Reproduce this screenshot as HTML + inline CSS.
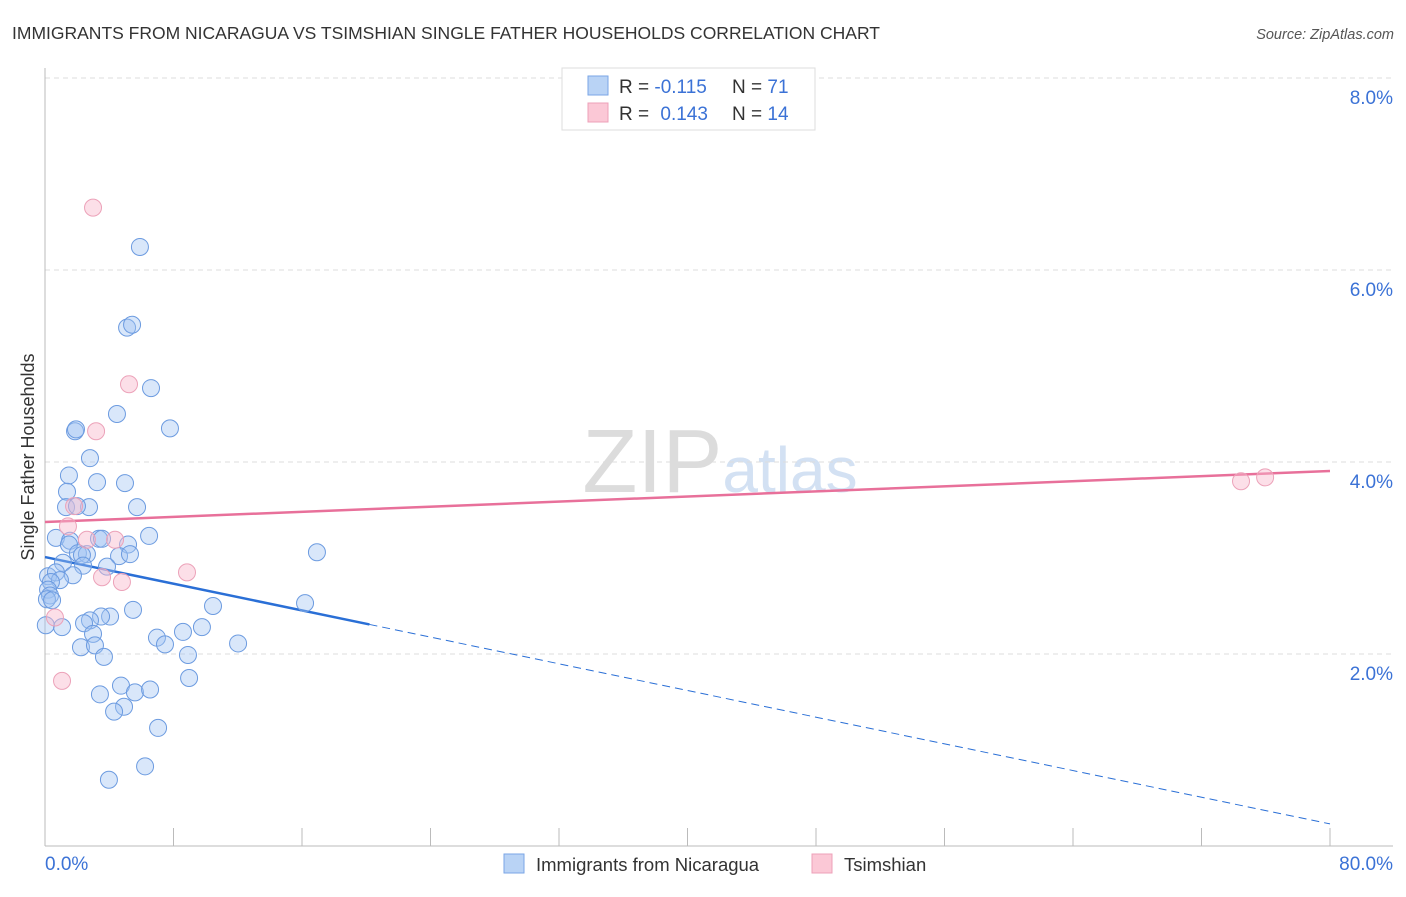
<!DOCTYPE html>
<html><head><meta charset="utf-8"><style>
body{margin:0;background:#fff;font-family:"Liberation Sans",sans-serif;}
svg text{font-family:"Liberation Sans",sans-serif;}
</style></head><body>
<svg id="chart" width="1406" height="892" viewBox="0 0 1406 892" xmlns="http://www.w3.org/2000/svg">
<text x="12" y="39" font-size="17.5" fill="#333">IMMIGRANTS FROM NICARAGUA VS TSIMSHIAN SINGLE FATHER HOUSEHOLDS CORRELATION CHART</text>
<text x="1394" y="39" font-size="14.5" fill="#555" text-anchor="end" font-style="italic">Source: ZipAtlas.com</text>
<text x="720" y="492" font-size="90" fill="#ddd" text-anchor="middle" font-family="Liberation Serif"><tspan fill="#dcdcdc">ZIP</tspan><tspan fill="#d3e1f3" font-family="Liberation Sans" font-size="64">atlas</tspan></text>
<g id="grid"></g>
<g id="axes"></g>
<g id="lines"></g>
<g id="points"></g>
<text transform="translate(34,457) rotate(-90)" font-size="18" fill="#333" text-anchor="middle">Single Father Households</text>
<g>
<rect x="562" y="68" width="253" height="62" fill="#fff" stroke="#ddd"/>
<rect x="588" y="76" width="20" height="19" fill="#b9d3f5" stroke="#7aa6e6"/>
<rect x="588" y="103" width="20" height="19" fill="#fbc8d6" stroke="#eea0b8"/>
<text x="619" y="93" font-size="19" fill="#333">R = <tspan fill="#3b72d6">-0.115</tspan></text>
<text x="732" y="93" font-size="19" fill="#333">N = <tspan fill="#3b72d6">71</tspan></text>
<text x="619" y="120" font-size="19" fill="#333">R = <tspan fill="#3b72d6" dx="6">0.143</tspan></text>
<text x="732" y="120" font-size="19" fill="#333">N = <tspan fill="#3b72d6">14</tspan></text>
</g>
<g>
<rect x="504" y="854" width="20" height="19" fill="#b9d3f5" stroke="#7aa6e6"/>
<text x="536" y="871" font-size="18.5" fill="#333">Immigrants from Nicaragua</text>
<rect x="812" y="854" width="20" height="19" fill="#fbc8d6" stroke="#eea0b8"/>
<text x="844" y="871" font-size="18.5" fill="#333">Tsimshian</text>
</g>
</svg>
<script>
const blueX=[5.91,5.11,5.42,6.60,4.48,1.87,1.93,7.78,2.80,1.49,3.24,4.98,1.37,5.73,1.31,2.74,1.99,0.68,1.56,3.36,3.55,6.48,5.17,1.49,2.05,2.61,2.30,4.61,5.29,16.93,1.12,3.86,2.37,0.19,0.68,1.74,0.93,0.37,0.19,0.31,0.12,0.44,5.48,10.46,16.19,4.05,3.49,2.80,2.43,1.06,2.99,6.97,7.47,8.59,9.77,12.02,2.24,3.11,3.67,8.90,8.97,4.73,3.42,5.60,6.54,4.92,4.30,7.04,6.23,3.98,0.05];
const blueY=[6.24,5.40,5.43,4.77,4.50,4.32,4.34,4.35,4.04,3.86,3.79,3.78,3.69,3.53,3.53,3.53,3.54,3.21,3.18,3.20,3.20,3.23,3.14,3.14,3.05,3.04,3.03,3.02,3.04,3.06,2.95,2.91,2.92,2.81,2.85,2.82,2.77,2.75,2.67,2.61,2.57,2.56,2.46,2.50,2.53,2.39,2.39,2.35,2.32,2.28,2.21,2.17,2.10,2.23,2.28,2.11,2.07,2.09,1.97,1.99,1.75,1.67,1.58,1.60,1.63,1.45,1.40,1.23,0.83,0.69,2.30];
const pinkX=[2.99,5.23,3.18,1.43,1.81,2.61,4.36,3.55,4.79,8.84,0.62,1.06,74.46,75.96];
const pinkY=[6.65,4.81,4.32,3.33,3.54,3.19,3.19,2.80,2.75,2.85,2.38,1.72,3.80,3.84];
const blueTrend=[3.01,0.23];
const blueSolidEnd=20.2;
const pinkTrend=[3.375,3.906];
const yTicks=[2,4,6,8];
const yTickLabels=["2.0%","4.0%","6.0%","8.0%"];
const xTicks=[0,8,16,24,32,40,48,56,64,72,80];
const xEndLabels=["0.0%","80.0%"];

const NS="http://www.w3.org/2000/svg";
const X=v=>45+v/80*1285;
const Y=v=>846-v*96;
function mk(tag,attrs,parent){const e=document.createElementNS(NS,tag);for(const k in attrs)e.setAttribute(k,attrs[k]);document.getElementById(parent).appendChild(e);return e;}
yTicks.forEach((t,i)=>{
  const l=mk('line',{x1:45,x2:1393,y1:Y(t),y2:Y(t),stroke:'#ddd','stroke-dasharray':'5,4'},'grid');
  
  
  const tx=mk('text',{x:1393,y:Y(t)+26,'font-size':19,fill:'#3b72d6','text-anchor':'end'},'grid');
  tx.textContent=yTickLabels[i];
  
  
});
const ax=mk('line',{x1:45,x2:45,y1:68,y2:846,stroke:'#bbb'},'axes');


const bx=mk('line',{x1:45,x2:1393,y1:846,y2:846,stroke:'#bbb'},'axes');


xTicks.forEach(t=>{
  const k=mk('line',{x1:X(t),x2:X(t),y1:828,y2:846,stroke:'#bbb'},'axes');
  
  
});
const xl0=mk('text',{x:45,y:870,'font-size':19,fill:'#3b72d6'},'axes');xl0.textContent=xEndLabels[0];


const xl1=mk('text',{x:1393,y:870,'font-size':19,fill:'#3b72d6','text-anchor':'end'},'axes');xl1.textContent=xEndLabels[1];



const by=x=>blueTrend[0]+(blueTrend[1]-blueTrend[0])*x/80;
const py=x=>pinkTrend[0]+(pinkTrend[1]-pinkTrend[0])*x/80;
for(let i=0;i<blueX.length;i++){
  const c=mk('circle',{cx:X(blueX[i]),cy:Y(blueY[i]),r:8.5,fill:'rgba(160,196,242,0.4)',stroke:'#6c9be0','stroke-width':1},'points');
  
  
}
for(let i=0;i<pinkX.length;i++){
  const c=mk('circle',{cx:X(pinkX[i]),cy:Y(pinkY[i]),r:8.5,fill:'rgba(248,185,205,0.45)',stroke:'#eca2b9','stroke-width':1},'points');
  
  
}
const b1=mk('line',{x1:X(0),y1:Y(by(0)),x2:X(blueSolidEnd),y2:Y(by(blueSolidEnd)),stroke:'#2a6fd6','stroke-width':2.5},'lines');


const b2=mk('line',{x1:X(blueSolidEnd),y1:Y(by(blueSolidEnd)),x2:X(80),y2:Y(by(80)),stroke:'#2a6fd6','stroke-width':1,'stroke-dasharray':'8,5'},'lines');


const p1=mk('line',{x1:X(0),y1:Y(py(0)),x2:X(80),y2:Y(py(80)),stroke:'#e8709a','stroke-width':2.5},'lines');


</script>
</body></html>
